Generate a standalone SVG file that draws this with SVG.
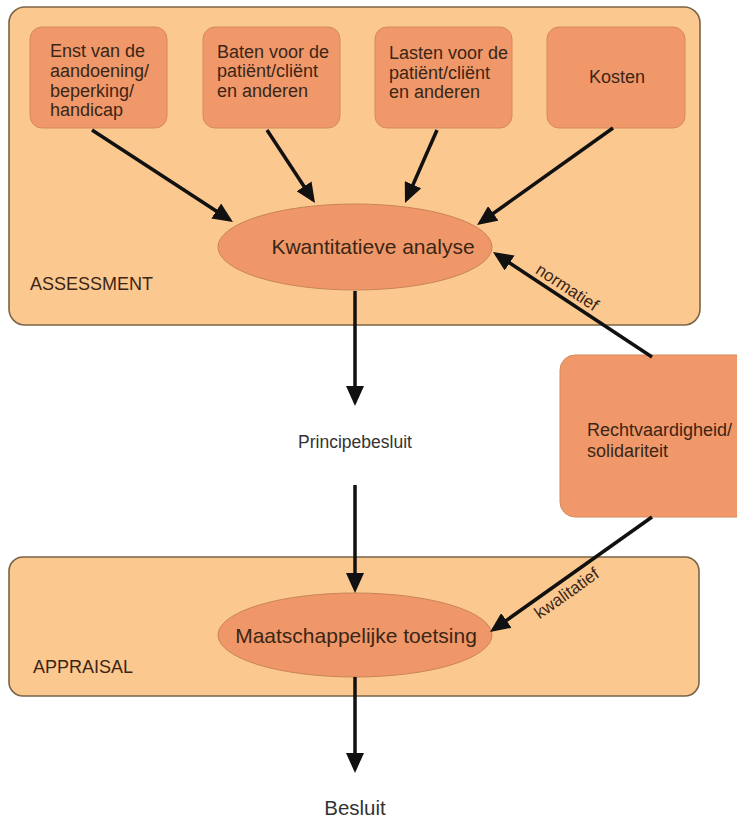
<svg xmlns="http://www.w3.org/2000/svg" width="737" height="819" viewBox="0 0 737 819">
<style>
.panel{fill:#FBC98F;stroke:#7B6446;stroke-width:1.6}
.box{fill:#F0986A;stroke:#D58A5C;stroke-width:1}
.ell{fill:#EF9768;stroke:#C98559;stroke-width:1}
.t{font-family:"Liberation Sans",Arial,sans-serif;font-size:18px;fill:#3B2616}
.big{font-size:21px}
.g{fill:#333333}
.arr{stroke:#111111;stroke-width:3.5;fill:none;marker-end:url(#ah)}
</style>
<defs>
<marker id="ah" markerUnits="userSpaceOnUse" markerWidth="20" markerHeight="18" refX="16" refY="9" orient="auto" viewBox="0 0 20 18">
<path d="M0,0 L20,9 L0,18 z" fill="#111111"/>
</marker>
</defs>
<rect width="737" height="819" fill="#ffffff"/>
<g id="assessment">
<rect class="panel" x="9" y="7" width="691" height="318" rx="16"/>
<text class="t" x="30" y="290">ASSESSMENT</text>
</g>
<g id="appraisal">
<rect class="panel" x="9" y="557" width="690" height="139" rx="14"/>
<text class="t" x="33" y="673">APPRAISAL</text>
</g>
<g id="ernst">
<rect class="box" x="30" y="27" width="137" height="101" rx="12"/>
<text class="t" x="50" y="57">Enst van de</text>
<text class="t" x="50" y="77">aandoening/</text>
<text class="t" x="50" y="96.5">beperking/</text>
<text class="t" x="50" y="115.5">handicap</text>
</g>
<g id="baten">
<rect class="box" x="203" y="27" width="137" height="101" rx="12"/>
<text class="t" x="217" y="57.5">Baten voor de</text>
<text class="t" x="217" y="77">patiënt/cliënt</text>
<text class="t" x="217" y="96.5">en anderen</text>
</g>
<g id="lasten">
<rect class="box" x="375" y="27" width="137" height="101" rx="12"/>
<text class="t" x="389" y="59">Lasten voor de</text>
<text class="t" x="389" y="78.5">patiënt/cliënt</text>
<text class="t" x="389" y="97.5">en anderen</text>
</g>
<g id="kosten">
<rect class="box" x="547" y="27" width="138" height="101" rx="12"/>
<text class="t" x="617" y="83" text-anchor="middle">Kosten</text>
</g>
<g id="kwantitatieve">
<ellipse class="ell" cx="355" cy="247" rx="137" ry="43"/>
<text class="t big" x="373" y="254" text-anchor="middle">Kwantitatieve analyse</text>
</g>
<g id="rechtvaardigheid">
<rect class="box" x="560" y="355" width="200" height="162" rx="15"/>
<text class="t" x="587" y="436">Rechtvaardigheid/</text>
<text class="t" x="587" y="456.5">solidariteit</text>
</g>
<g id="principebesluit">
<text class="t g" x="355" y="448" text-anchor="middle" style="font-size:17.5px">Principebesluit</text>
</g>
<g id="maatschappelijke">
<ellipse class="ell" cx="355" cy="635" rx="137" ry="42"/>
<text class="t big" x="356" y="643" text-anchor="middle">Maatschappelijke toetsing</text>
</g>
<g id="besluit">
<text class="t g" x="355" y="815" text-anchor="middle" style="font-size:20.5px">Besluit</text>
</g>
<g id="connectors">
<line class="arr" x1="92" y1="130" x2="229.6" y2="219.8"/>
<line class="arr" x1="267" y1="130" x2="312.8" y2="199.7"/>
<line class="arr" x1="437" y1="130" x2="406.6" y2="199.3"/>
<line class="arr" x1="613" y1="128" x2="480.3" y2="222.7"/>
<line class="arr" x1="652" y1="357" x2="496.3" y2="254.2"/>
<line class="arr" x1="355" y1="291" x2="355" y2="402"/>
<line class="arr" x1="355" y1="485" x2="355" y2="589"/>
<line class="arr" x1="652" y1="517" x2="493.3" y2="629.7"/>
<line class="arr" x1="355" y1="677" x2="355" y2="769"/>
<text class="t" transform="translate(564,292) rotate(33.4)" text-anchor="middle" style="font-size:17px">normatief</text>
<text class="t" transform="translate(570,598) rotate(-35.4)" text-anchor="middle" style="font-size:17px">kwalitatief</text>
</g>
</svg>
